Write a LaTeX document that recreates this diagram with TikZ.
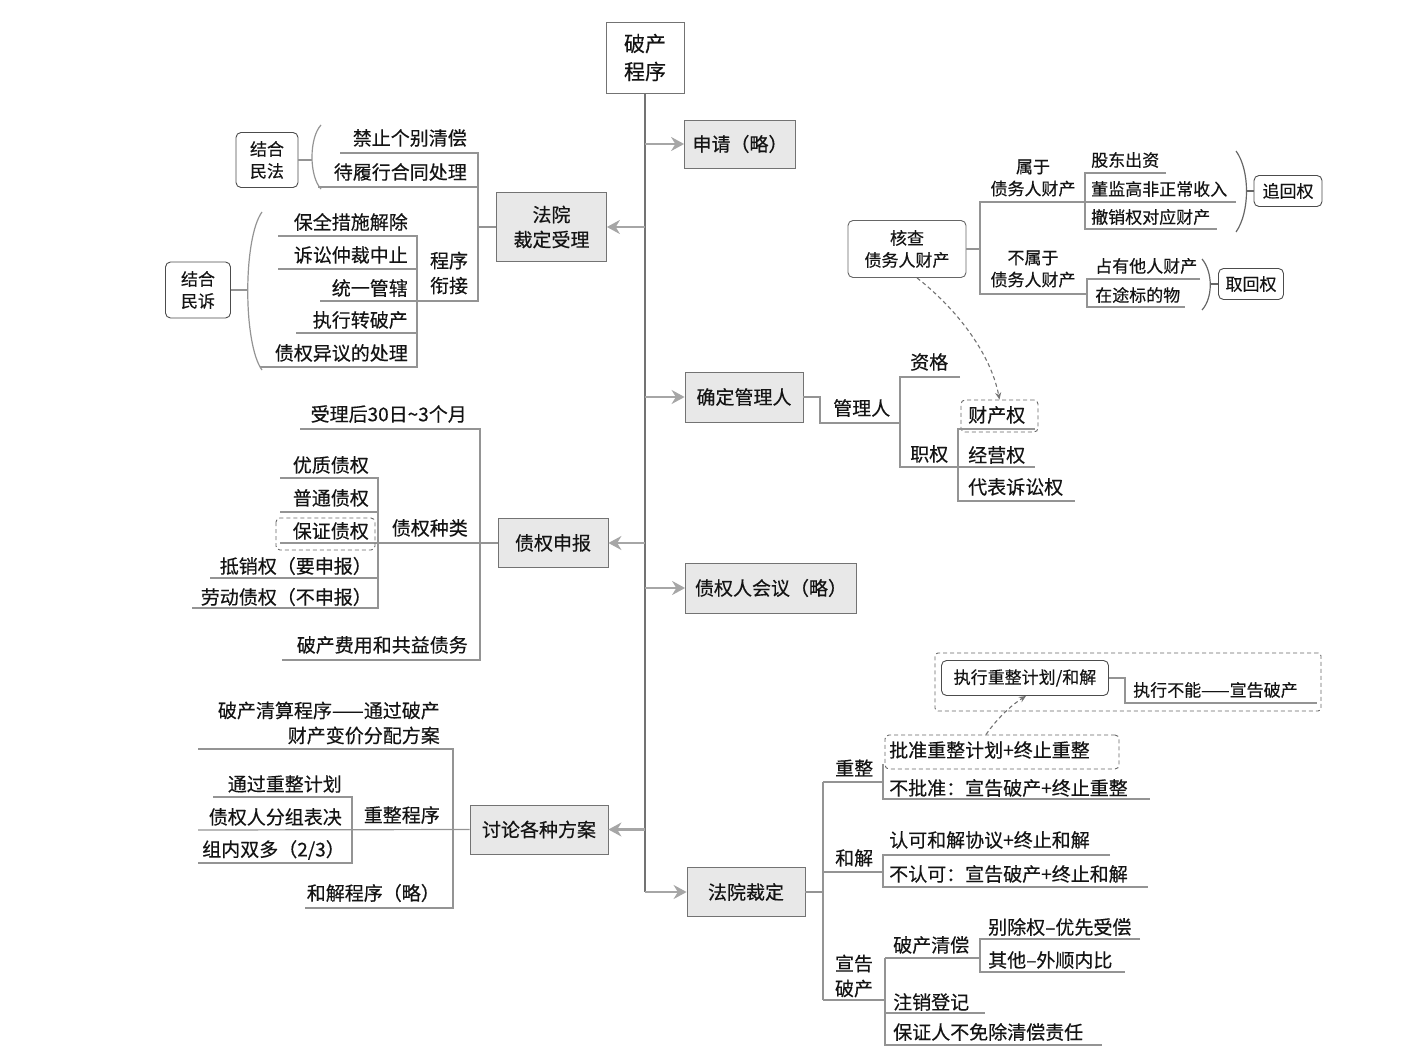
\documentclass[tikz,border=0pt]{standalone}
\usepackage{fontspec}
\setmainfont{Noto Sans CJK SC}[FakeBold=0.35]
\usetikzlibrary{arrows.meta,calc}

\newcommand\szA{\fontsize{19}{25}\selectfont}
\newcommand\szB{\fontsize{17}{22}\selectfont}
\newcommand\szR{\fontsize{21}{28}\selectfont}

\begin{document}
\begin{tikzpicture}[x=1pt,y=-1pt,
  line/.style={draw=black!42, line width=1.2pt},
  spine/.style={draw=black!55, line width=1.4pt},
  mainbox/.style={draw=black!55, fill=black!9, line width=0.8pt, inner sep=0pt, font=\szA, text=black!92, align=center},
  rootbox/.style={draw=black!55, fill=white, line width=0.8pt, inner sep=0pt, font=\szR, align=center, text=black!92},
  rbox/.style={draw=black!70, rounded corners=5pt, fill=white, line width=0.9pt, inner sep=0pt, font=\szB, align=center, text=black!92},
  lt/.style={inner sep=0pt, font=\szA, text=black!92},
  st/.style={inner sep=0pt, font=\szB, text=black!92},
  dbox/.style={draw=black!60, dash pattern=on 4pt off 3pt, rounded corners=4pt, line width=0.9pt, inner sep=0pt},
  arr/.style={draw=black!35, line width=2.4pt, -{Stealth[length=13pt,width=14pt]}},
  darr/.style={draw=black!55, dash pattern=on 4pt off 3pt, line width=1.1pt, -{Stealth[length=7pt,width=6pt]}},
]
\useasboundingbox (0,0) rectangle (1407,1062);

% ---------- root and main branches ----------
\node[rootbox, minimum width=78, minimum height=71] (root) at (645,57.5) {破产\\程序};

\node[mainbox, minimum width=111, minimum height=48] (sq)   at (740,144)   {申请（略）};
\node[mainbox, minimum width=118, minimum height=50] (qd)   at (744,397)   {确定管理人};
\node[mainbox, minimum width=171, minimum height=50] (zhy)  at (771,588)   {债权人会议（略）};
\node[mainbox, minimum width=118, minimum height=49] (fycd) at (746,892)   {法院裁定};
\node[mainbox, minimum width=110, minimum height=69] (fysl) at (551.5,227) {法院\\裁定受理};
\node[mainbox, minimum width=110, minimum height=49] (zqsb) at (553,543)   {债权申报};
\node[mainbox, minimum width=138, minimum height=49] (tlfa) at (539,829.5) {讨论各种方案};

\draw[spine] (root.south) -- (root.south |- fycd.west);
\foreach \n in {sq,qd,zhy,fycd}
  \draw[arr] (root.south |- \n.west) -- (\n.west);
\foreach \n in {fysl,zqsb,tlfa}
  \draw[arr] (root.south |- \n.east) -- (\n.east);

% ---------- 法院裁定受理 ----------
\node[lt, anchor=east] (a1) at (467,138) {禁止个别清偿};
\node[lt, anchor=east] (a2) at (467,172) {待履行合同处理};
\node[lt, align=center] (a3) at (449,273) {程序\\衔接};
\node[lt, anchor=east] (a4) at (408,222) {保全措施解除};
\node[lt, anchor=east] (a5) at (408,255) {诉讼仲裁中止};
\node[lt, anchor=east] (a6) at (408,288) {统一管辖};
\node[lt, anchor=east] (a7) at (408,320) {执行转破产};
\node[lt, anchor=east] (a8) at (408,353) {债权异议的处理};

\draw[line] (fysl.west) -- (478,227);
\draw[line] (340,153) -- (478,153) -- (478,301) -- (320,301);
\draw[line] (318,187) -- (478,187);
\draw[line] (278,236) -- (417,236) -- (417,367) -- (260,367);
\draw[line] (278,269) -- (417,269);
\draw[line] (296,333) -- (417,333);

\node[rbox, minimum width=62, minimum height=55] (jhmf) at (267,160) {结合\\民法};
\node[rbox, minimum width=65, minimum height=56] (jhms) at (198,290) {结合\\民诉};
\coordinate (bra) at (312,160);
\coordinate (brb) at (248,290);
\draw[line] (321,125) .. controls (309,138) and (309,176) .. (321,189);
\draw[line] (262,212) .. controls (243,238) and (243,344) .. (262,370);
\draw[line] (jhmf.east) -- (bra);
\draw[line] (jhms.east) -- (brb);

% ---------- 债权申报 ----------
\node[lt, anchor=east] (b1) at (467,414) {受理后30日\textasciitilde 3个月};
\node[lt, anchor=east] (b2) at (468,528) {债权种类};
\node[lt, anchor=east] (b3) at (369,465) {优质债权};
\node[lt, anchor=east] (b4) at (369,498) {普通债权};
\node[lt, anchor=east] (b5) at (369,531) {保证债权};
\node[lt, anchor=east] (b6) at (372,566) {抵销权（要申报）};
\node[lt, anchor=east] (b7) at (372,597) {劳动债权（不申报）};
\node[lt, anchor=east] (b8) at (468,645) {破产费用和共益债务};

\draw[line] (300,429) -- (480,429) -- (480,660) -- (282,660);
\draw[line] (280,543) -- (zqsb.west);
\draw[line] (280,478) -- (378,478) -- (378,608) -- (192,608);
\draw[line] (280,512) -- (378,512);
\draw[line] (210,578) -- (378,578);
\draw[dbox] (276,518) rectangle (375,550);

% ---------- 讨论各种方案 ----------
\node[lt, anchor=east, align=right] (c1) at (440,723) {破产清算程序——通过破产\\财产变价分配方案};
\node[lt, anchor=east] (c2) at (440,815) {重整程序};
\node[lt, anchor=east] (c3) at (342,784) {通过重整计划};
\node[lt, anchor=east] (c4) at (342,817) {债权人分组表决};
\node[lt, anchor=east] (c5) at (345,850) {组内双多（2/3）};
\node[lt, anchor=east] (c6) at (440,893) {和解程序（略）};

\draw[line] (198,749) -- (453,749) -- (453,908) -- (305,908);
\draw[line] (198,830) -- (tlfa.west);
\draw[line] (213,797) -- (352,797) -- (352,863) -- (198,863);

% ---------- 确定管理人 ----------
\node[lt, anchor=west] (d1) at (833,408) {管理人};
\node[lt, anchor=west] (d2) at (910,362) {资格};
\node[lt, anchor=west] (d3) at (910,454) {职权};
\node[dbox, minimum width=77, minimum height=32] (cqbox) at (999.5,416) {};
\node[lt, anchor=west] (d4) at (968,415) {财产权};
\node[lt, anchor=west] (d5) at (968,455) {经营权};
\node[lt, anchor=west] (d6) at (968,487) {代表诉讼权};

\draw[line] (qd.east) -- (820,397) -- (820,423) -- (900,423);
\draw[line] (960,377) -- (900,377) -- (900,467) -- (958,467);
\draw[line] (1035,429) -- (958,429) -- (958,501) -- (1075,501);
\draw[line] (958,467) -- (1035,467);

% ---------- 核查债务人财产 ----------
\node[rbox, draw=black!60, minimum width=118, minimum height=57] (hc) at (907,249) {核查\\债务人财产};
\node[st, align=center] (e1) at (1033,178) {属于\\债务人财产};
\node[st, anchor=west] (e2) at (1091,160) {股东出资};
\node[st, anchor=west] (e3) at (1091,189) {董监高非正常收入};
\node[st, anchor=west] (e4) at (1091,217) {撤销权对应财产};
\node[st, align=center] (e5) at (1033,269) {不属于\\债务人财产};
\node[st, anchor=west] (e6) at (1095,266) {占有他人财产};
\node[st, anchor=west] (e7) at (1095,295) {在途标的物};
\node[rbox, minimum width=68, minimum height=31] (zhq) at (1288,191) {追回权};
\node[rbox, minimum width=65, minimum height=31] (qhq) at (1251,284) {取回权};

\draw[line] (hc.east) -- (980,249);
\draw[line] (1236,202) -- (980,202) -- (980,294) -- (1087,294);
\draw[line] (1166,173) -- (1085,173) -- (1085,229) -- (1217,229);
\draw[line] (1200,279) -- (1087,279) -- (1087,307) -- (1185,307);
\coordinate (brc) at (1246,191);
\coordinate (brd) at (1210,284);
\draw[line, draw=black!60] (1236,151) .. controls (1250,170) and (1250,212) .. (1236,232);
\draw[line, draw=black!60] (1202,259) .. controls (1213,272) and (1213,298) .. (1202,310);
\draw[line, draw=black!60] (brc) -- (zhq.west);
\draw[line, draw=black!60] (brd) -- (qhq.west);

\draw[darr] ([xshift=10pt]hc.south) .. controls (952,305) and (990,350) .. (cqbox.north);

% ---------- 法院裁定 ----------
\node[lt, anchor=west] (f1) at (835,768) {重整};
\node[dbox, minimum width=234, minimum height=34] (pzbox) at (1002,752) {};
\node[lt, anchor=west] (f2) at (889,750) {批准重整计划+终止重整};
\node[lt, anchor=west] (f3) at (889,788) {不批准：宣告破产+终止重整};
\node[lt, anchor=west] (f4) at (835,858) {和解};
\node[lt, anchor=west] (f5) at (889,840) {认可和解协议+终止和解};
\node[lt, anchor=west] (f6) at (889,874) {不认可：宣告破产+终止和解};
\node[lt, align=center] (f7) at (854,976) {宣告\\破产};
\node[lt, anchor=west] (f8) at (893,945) {破产清偿};
\node[lt, anchor=west] (f9) at (988,927) {别除权–优先受偿};
\node[lt, anchor=west] (f10) at (988,960) {其他–外顺内比};
\node[lt, anchor=west] (f11) at (893,1002) {注销登记};
\node[lt, anchor=west] (f12) at (893,1032) {保证人不免除清偿责任};

\draw[line] (fycd.east) -- (823,892);
\draw[line] (823,782) -- (823,1000);
\draw[line] (823,782) -- (883,782);
\draw[line] (883,764) -- (883,799) -- (1150,799);
\draw[line] (823,872) -- (883,872);
\draw[line] (1110,855) -- (883,855) -- (883,887) -- (1148,887);
\draw[line] (823,1000) -- (885,1000);
\draw[line] (885,958) -- (885,1045) -- (1102,1045);
\draw[line] (885,958) -- (980,958);
\draw[line] (1140,939) -- (980,939) -- (980,972) -- (1125,972);
\draw[line] (885,1013) -- (985,1013);

% execution of the plan
\node[dbox, rounded corners=3pt, minimum width=386, minimum height=58] (bigbox) at (1128,682) {};
\node[rbox, minimum width=167, minimum height=35] (zx) at (1025,678) {执行重整计划/和解};
\node[st, anchor=west] (g1) at (1133,690) {执行不能——宣告破产};
\draw[line] (zx.east) -- (1125,678) -- (1125,703) -- (1317,703);
\draw[darr] ([xshift=-16pt]pzbox.north) .. controls (996,720) and (1010,706) .. ([xshift=1pt]zx.south);

\end{tikzpicture}
\end{document}
